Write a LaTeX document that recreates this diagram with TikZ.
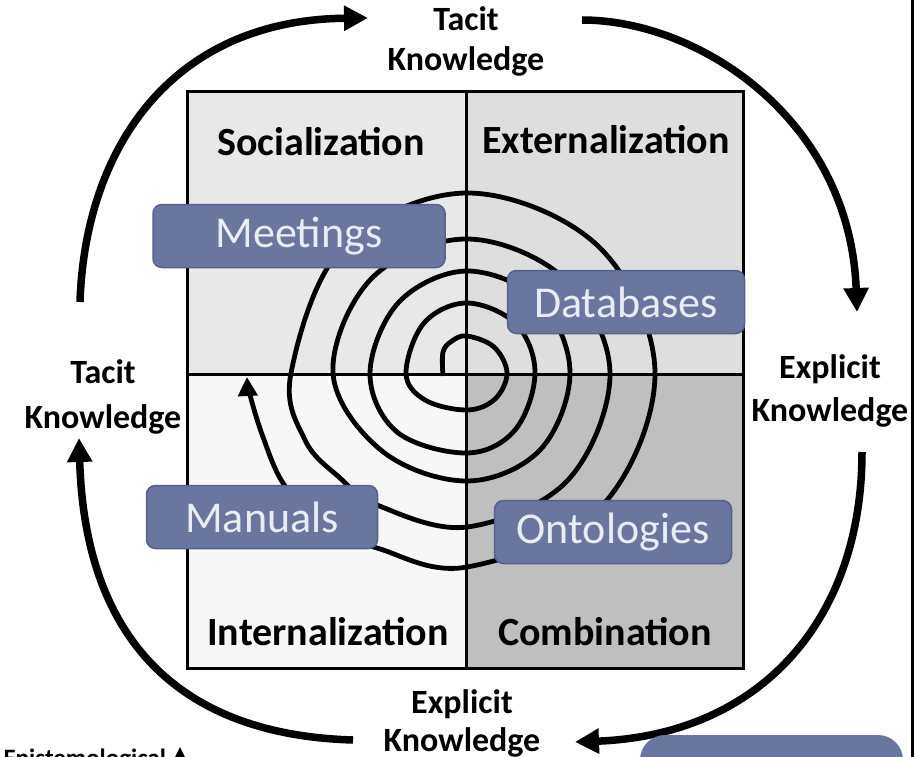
\documentclass[tikz,border=0pt]{standalone}
\usepackage{fontspec}
\setmainfont{Carlito}
\usepackage{tikz}
\usetikzlibrary{positioning}
\usetikzlibrary{arrows.meta}
\definecolor{boxblue}{RGB}{107,118,160}
\definecolor{boxedge}{RGB}{86,97,138}
\definecolor{boxtext}{RGB}{234,236,243}
\tikzstyle{tool}=[rounded corners=9pt,fill=boxblue,draw=boxedge,line width=1.5pt,text=boxtext,font=\fontsize{44}{50}\selectfont,minimum height=63pt,inner sep=0pt]
\tikzstyle{mode}=[font=\bfseries\fontsize{40}{46}\selectfont]
\tikzstyle{kind}=[font=\bfseries\fontsize{34}{40}\selectfont,align=center]
\tikzstyle{cycle}=[line width=7.5pt,-{Triangle[length=24pt,width=24pt]}]

\begin{document}
\begin{tikzpicture}[x=1pt,y=-1pt]

   \useasboundingbox (0,0) rectangle (924,757);
   \clip (0,0) rectangle (924,757);
   \fill[white] (0,0) rectangle (924,757);

   % the four quadrants
   \fill[black!9]  (187,92)  rectangle (466,374);
   \fill[black!13] (466,92)  rectangle (743,374);
   \fill[black!3]  (187,374) rectangle (466,668);
   \fill[black!25] (466,374) rectangle (743,668);

   % spiral, inside out
   \draw[line width=4.8pt,line join=round,-{Triangle[length=19pt,width=19pt]}] plot[smooth,tension=0.6] coordinates {
      (443,376) (443,352) (452,341) (467,336) (494,347) (507,373) (495,399) (467,410)
      (425,400) (406,373) (424,323) (467,303) (516,324) (535,373) (515,430) (467,453)
      (397,432) (370,373) (399,302) (467,271) (540,301) (570,373) (540,450) (467,481)
      (382,451) (333,373) (372,278) (467,239) (565,279) (610,373) (568,480) (467,527)
      (377,505) (340,478) (305,440) (291,373) (343,247) (467,193) (598,246) (655,373)
      (600,508) (467,567) (377,548) (320,525) (283,483) (263,437) (250,395) (247,377)};

   \draw[line width=3pt] (187,92) rectangle (743,668);
   \draw[line width=3pt] (466,92) -- (466,668);
   \draw[line width=3pt] (187,374) -- (743,374);

   \foreach \pos/\name in {{(321,142)/Socialization}, {(606,140)/Externalization}, {(328,632)/Internalization}, {(605,632)/Combination}}
        \node[mode] (\name) at \pos {\name};

    \foreach \pos/\name/\boxw in {{(299,236)/Meetings/292}, {(626,302)/Databases/237}, {(262,517)/Manuals/231}, {(613,532)/Ontologies/237}}
        \node[tool,minimum width=\boxw pt] (\name) at \pos {\name};

   % outer cycle
   \node[kind] (tacitTop) at (466,41) {Tacit\\Knowledge};
   \node[kind,font=\bfseries\fontsize{34}{45}\selectfont] (tacitLeft) at (103,397) {Tacit\\Knowledge};
   \node[kind,font=\bfseries\fontsize{34}{43}\selectfont] (explicitRight) at (830,391) {Explicit\\Knowledge};
   \node[kind,font=\bfseries\fontsize{34}{38}\selectfont] (explicitBottom) at (462,723) {Explicit\\Knowledge};

   \coordinate (a1) at (80,302);  \coordinate (a2) at (368,18);
   \coordinate (b1) at (582,20);  \coordinate (b2) at (857,312);
   \coordinate (c1) at (862,452); \coordinate (c2) at (575,742);
   \coordinate (d1) at (353,740); \coordinate (d2) at (79,438);

   \draw[cycle] (a1) .. controls (85,150) and (170,20) .. (a2);
   \draw[cycle] (b1) .. controls (700,20) and (850,120) .. (b2);
   \draw[cycle] (c1) .. controls (862,620) and (760,735) .. (c2);
   \draw[cycle] (d1) .. controls (180,735) and (85,640) .. (d2);

   % frame edge and the cut-off bits along the bottom
   \draw[line width=3pt] (912,0) -- (912,757);
   \fill[boxblue] (640,790) -- (640,760) arc (180:270:25) -- (878,735) arc (270:360:25) -- (903,790) -- cycle;
   \node[anchor=base west,font=\bfseries\fontsize{25}{30}\selectfont] (epist) at (0,766) {Epistemological};
   \fill (172,763) -- (180,747) -- (188,763) -- cycle;

\end{tikzpicture}
\end{document}
